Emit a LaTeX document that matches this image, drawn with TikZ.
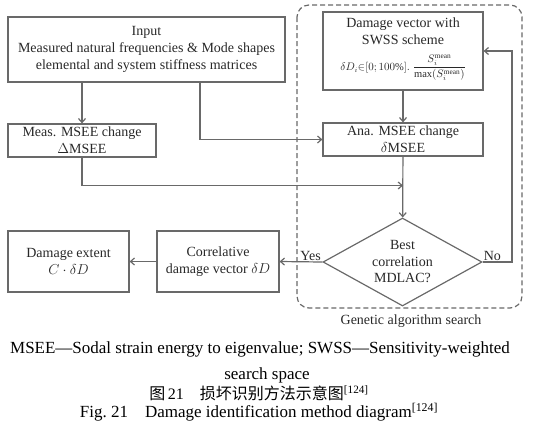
\documentclass[tikz,border=0pt]{standalone}
\usepackage{fontspec}
\setmainfont{Liberation Serif}
\newfontfamily\cjk{Noto Sans CJK SC}
\usetikzlibrary{shapes.geometric,arrows.meta}
\definecolor{linegray}{RGB}{105,105,105}
\definecolor{textgray}{RGB}{40,40,40}

\begin{document}
\begin{tikzpicture}[x=1pt,y=-1pt,
    box/.style={rectangle,draw=linegray,line width=1.2pt,align=center,inner sep=0pt,
      text=textgray,font=\fontsize{14}{17}\selectfont},
    decision/.style={diamond,draw=linegray,line width=1.2pt,align=center,inner sep=0pt,
      text=textgray,font=\fontsize{14}{16.5}\selectfont,aspect=1.8},
    arr/.style={draw=linegray,line width=1.2pt,-{Straight Barb[length=4pt,width=7pt]}},
    lbl/.style={text=textgray,font=\fontsize{14}{16}\selectfont,inner sep=1pt},
    caption/.style={text=black,font=\fontsize{17}{20}\selectfont}]
        \useasboundingbox (0,0) rectangle (534,445);
        % GA search frame
        \draw[linegray,line width=1.2pt,dash pattern=on 5pt off 3pt,rounded corners=12pt]
          (297,5) rectangle (522,308);
        \draw (411,321) node[lbl] (ga) {Genetic algorithm search};
        % boxes
        \draw (146.5,49.5) node[box,minimum width=277,minimum height=65] (inp)
          {Input\\Measured natural frequencies \& Mode shapes\\elemental and system stiffness matrices};
        \draw (82,140.5) node[box,minimum width=148,minimum height=33] (meas)
          {Meas. MSEE change\\$\Delta$MSEE};
        \draw (403,51) node[box,minimum width=160,minimum height=78] (dvec)
          {Damage vector with\\SWSS scheme\\[9pt]
           {\fontsize{10.5}{12}\selectfont$\delta D_i{\in}[0;100\%].\;\displaystyle\frac{S_i^{\mathrm{mean}}}{\max(S_i^{\mathrm{mean}})}$}\\[-3pt]};
        \draw (403,139.5) node[box,minimum width=160,minimum height=33] (ana)
          {Ana. MSEE change\\$\delta$MSEE};
        \draw (402.5,262) node[decision,minimum width=159,minimum height=88] (best)
          {Best\\correlation\\MDLAC?};
        \draw (218,261.5) node[box,minimum width=122,minimum height=61] (corr)
          {Correlative\\damage vector $\delta D$};
        \draw (68.5,261.5) node[box,minimum width=121,minimum height=61] (ext)
          {Damage extent\\$C\cdot\delta D$};
        \coordinate (split) at (200,139.5);
        \coordinate (join) at (403,185.5);
        \coordinate (back) at (512,51);
        % connectors
        \draw[arr] (meas.north |- inp.south)--(meas.north);
        \draw[arr] (inp.south -| split) |- (ana.west);
        \draw[arr] (dvec)--(ana);
        \draw[arr] (meas.south) |- (join);
        \draw[arr] (ana)--(best);
        \draw[arr] (best.west)--(corr.east) node[lbl,above left,pos=0] {Yes};
        \draw[arr] (corr)--(ext);
        \draw[arr] (best.east) -| (back) -- (dvec.east);
        \draw (best.east) node[lbl,above right] {No};
        % caption
        \draw (260,349) node[caption] (cap1) {MSEE---Sodal strain energy to eigenvalue; SWSS---Sensitivity-weighted};
        \draw (267,375) node[caption] (cap2) {search space};
        \draw (259,393) node[caption,font=\fontsize{16}{18}\selectfont] (cap3) {{\cjk 图}\,21\quad{\cjk 损坏识别方法示意图}\textsuperscript{[124]}};
        \draw (259,412) node[caption] (cap4) {Fig.~21\quad Damage identification method diagram\textsuperscript{[124]}};
\end{tikzpicture}
\end{document}
